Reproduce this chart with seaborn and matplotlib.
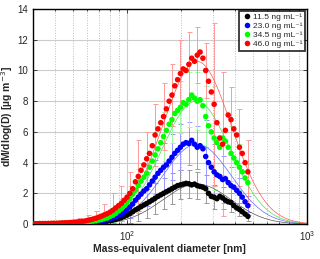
import numpy as np
import pandas as pd
import matplotlib
matplotlib.use("Agg")
import matplotlib.pyplot as plt
from matplotlib.ticker import LogLocator, NullFormatter
import seaborn as sns

# SMPS channel diameters [nm]
diam = [30.5, 31.6, 32.8, 34.0, 35.2, 36.5, 37.9, 39.2, 40.7, 42.2, 43.7, 45.3,
        47.0, 48.7, 50.5, 52.3, 54.2, 56.2, 58.3, 60.4, 62.6, 64.9, 67.3, 69.8,
        72.3, 74.9, 77.7, 80.6, 83.5, 86.6, 89.8, 93.1, 96.5, 100.0, 103.7, 107.5,
        111.4, 115.5, 119.7, 124.1, 128.6, 133.4, 138.2, 143.3, 148.6, 154.0, 159.6,
        165.5, 171.5, 177.8, 184.3, 191.1, 198.1, 205.4, 212.9, 220.7, 228.8, 237.2,
        245.8, 254.8, 264.2, 273.8, 283.9, 294.3, 305.1, 316.2, 327.8, 339.8, 352.3,
        365.2, 378.6, 392.4, 406.8, 421.7, 437.1, 453.2, 469.8]

labels = ["11.5 ng mL⁻¹", "23.0 ng mL⁻¹", "34.5 ng mL⁻¹", "46.0 ng mL⁻¹"]

black_vals = [0.0, 0.0, 0.0, 0.0, 0.01, 0.01, 0.01, 0.01, 0.01, 0.01, 0.02, 0.02,
              0.02, 0.02, 0.03, 0.03, 0.04, 0.04, 0.05, 0.06, 0.07, 0.08, 0.10, 0.12,
              0.14, 0.16, 0.19, 0.22, 0.26, 0.30, 0.36, 0.42, 0.50, 0.58, 0.68, 0.80,
              0.92, 1.02, 1.13, 1.24, 1.34, 1.45, 1.56, 1.68, 1.80, 1.90, 2.00, 2.10,
              2.20, 2.30, 2.40, 2.50, 2.55, 2.60, 2.65, 2.62, 2.55, 2.60, 2.50, 2.45,
              2.40, 2.30, 2.00, 1.80, 1.75, 1.65, 1.80, 1.70, 1.55, 1.45, 1.40, 1.20,
              1.05, 0.95, 0.80, 0.65, 0.50]
blue_vals = [0.0, 0.0, 0.01, 0.01, 0.01, 0.01, 0.02, 0.02, 0.02, 0.02, 0.03, 0.03,
             0.03, 0.04, 0.05, 0.05, 0.06, 0.07, 0.08, 0.10, 0.11, 0.13, 0.15, 0.18,
             0.21, 0.24, 0.28, 0.33, 0.39, 0.46, 0.55, 0.65, 0.78, 0.92, 1.10, 1.30,
             1.55, 1.75, 1.95, 2.15, 2.30, 2.55, 2.80, 3.05, 3.30, 3.50, 3.70, 3.85,
             4.10, 4.35, 4.60, 4.80, 5.00, 5.20, 5.30, 5.25, 5.45, 5.20, 5.00, 5.10,
             4.90, 4.40, 4.00, 3.70, 3.40, 3.20, 3.10, 2.90, 2.95, 2.70, 2.50, 2.40,
             2.20, 2.00, 1.75, 1.45, 1.20]
green_vals = [0.01, 0.01, 0.01, 0.02, 0.02, 0.02, 0.03, 0.03, 0.03, 0.04, 0.04, 0.05,
              0.05, 0.06, 0.07, 0.08, 0.09, 0.10, 0.12, 0.14, 0.16, 0.19, 0.22, 0.26,
              0.30, 0.35, 0.40, 0.50, 0.58, 0.70, 0.85, 1.00, 1.20, 1.40, 1.65, 1.95,
              2.20, 2.50, 2.80, 3.05, 3.30, 3.70, 4.10, 4.50, 4.90, 5.30, 5.70, 6.10,
              6.50, 6.80, 7.20, 7.40, 7.60, 7.90, 7.80, 8.10, 8.40, 8.20, 8.00, 8.10,
              7.70, 7.00, 6.40, 6.00, 5.60, 5.30, 5.00, 5.60, 5.40, 5.00, 4.60, 4.30,
              4.00, 3.70, 3.40, 3.00, 2.70]
red_vals = [0.02, 0.02, 0.03, 0.03, 0.03, 0.04, 0.04, 0.05, 0.05, 0.06, 0.07, 0.08,
            0.09, 0.10, 0.12, 0.13, 0.15, 0.17, 0.20, 0.24, 0.28, 0.33, 0.38, 0.45,
            0.52, 0.60, 0.68, 0.78, 0.90, 1.05, 1.20, 1.35, 1.55, 1.75, 2.00, 2.30,
            2.75, 3.10, 3.50, 3.85, 4.25, 4.60, 5.10, 5.80, 6.20, 6.60, 7.00, 7.50,
            8.00, 8.40, 9.00, 9.40, 9.80, 10.10, 10.00, 10.40, 10.80, 10.60, 11.00, 11.20,
            10.80, 10.00, 9.30, 8.60, 7.80, 6.60, 5.60, 5.20, 6.10, 7.10, 6.80, 6.20,
            5.80, 5.00, 4.60, 4.00, 3.40]

# error bars are shown on every third channel
err_idx = list(range(1, 77, 3))
black_err = [0.0, 0.01, 0.01, 0.02, 0.02, 0.04, 0.06, 0.10, 0.15, 0.25, 0.40, 0.60, 0.80,
             0.95, 1.00, 1.00, 1.00, 0.95, 0.90, 0.90, 0.90, 0.80, 0.70, 0.60, 0.45, 0.30]
blue_err = [0.0, 0.01, 0.02, 0.03, 0.04, 0.06, 0.09, 0.14, 0.20, 0.30, 0.45, 0.70, 0.90,
            1.10, 1.10, 1.60, 1.50, 1.50, 1.40, 1.40, 2.40, 1.80, 1.50, 1.20, 1.00, 0.60]
green_err = [0.01, 0.01, 0.02, 0.03, 0.05, 0.08, 0.12, 0.20, 0.30, 0.45, 0.60, 0.80, 1.10,
             1.30, 1.50, 1.60, 1.50, 1.70, 1.80, 1.90, 2.00, 3.40, 2.40, 1.80, 1.50, 1.20]
red_err = [0.01, 0.02, 0.05, 0.08, 0.15, 0.25, 0.36, 0.47, 0.70, 1.10, 1.15, 1.40, 2.40,
           1.75, 2.00, 2.20, 2.00, 2.20, 2.10, 1.80, 1.80, 5.30, 4.70, 2.10, 2.50, 2.10]

# lognormal fit parameters: amplitude, mode diameter [nm], geometric std
fit_amp = [2.6, 5.2, 8.0, 10.6]
fit_mode = [245, 245, 242, 245]
fit_sigma = [1.55, 1.55, 1.55, 1.55]

colors = ["#000000", "#0000ff", "#00ff00", "#ff0000"]
err_colors = ["#9a9a9a", "#9999ff", "#99ff99", "#ff9999"]
fit_colors = ["#555555", "#6666ff", "#55dd55", "#ff5555"]

series = [black_vals, blue_vals, green_vals, red_vals]
errors = [black_err, blue_err, green_err, red_err]

df = pd.concat([pd.DataFrame({"d": diam, "val": v, "conc": lab})
                for v, lab in zip(series, labels)], ignore_index=True)

d_fit = np.logspace(np.log10(30), 3, 300)
fit_rows = []
for a, m, s, lab in zip(fit_amp, fit_mode, fit_sigma, labels):
    y = a * np.exp(-(np.log10(d_fit / m)) ** 2 / (2 * np.log10(s) ** 2))
    fit_rows.append(pd.DataFrame({"d": d_fit, "val": y, "conc": lab}))
fit_df = pd.concat(fit_rows, ignore_index=True)

sns.set_style("ticks")
plt.rcParams['font.family'] = ['Liberation Sans', 'DejaVu Sans']

fig = plt.figure(figsize=(3.2, 2.59), dpi=100)
ax = fig.add_axes([0.103, 0.135, 0.856, 0.83])

# error bars underneath everything
d_arr = np.array(diam)
for v, e, c in zip(series, errors, err_colors):
    v = np.array(v)
    ax.errorbar(d_arr[err_idx], v[err_idx], yerr=e, fmt="none", ecolor=c,
                elinewidth=0.7, capsize=1.8, capthick=0.7, zorder=1)

sns.lineplot(data=fit_df, x="d", y="val", hue="conc", palette=fit_colors,
             linewidth=0.5, legend=False, ax=ax, zorder=2)
sns.scatterplot(data=df, x="d", y="val", hue="conc", palette=colors, s=16,
                edgecolor="none", ax=ax, zorder=3)

ax.set_xscale("log")
ax.set_xlim(30, 1000)
ax.set_ylim(0, 14)
ax.set_yticks(range(0, 15, 2))
ax.xaxis.set_minor_locator(LogLocator(base=10, subs=np.arange(2, 10)))
ax.xaxis.set_minor_formatter(NullFormatter())

ax.grid(True, which="major", color="#cccccc", linewidth=0.8)
ax.grid(True, which="minor", axis="x", color="#bbbbbb", linestyle=":", linewidth=0.7)
ax.set_axisbelow(True)

ax.tick_params(axis="both", which="both", direction="in", top=True, right=True,
               labelsize=7, length=3, width=0.6)
ax.tick_params(axis="x", which="minor", length=1.5)
for sp in ax.spines.values():
    sp.set_linewidth(1.0)
    sp.set_color("black")

ax.set_xlabel("Mass-equivalent diameter [nm]", fontsize=7.5, fontweight="bold", labelpad=1)
ax.set_ylabel("dM/dlog(D) [µg m$^{-3}$]", fontsize=7.5, fontweight="bold", labelpad=2)

leg = ax.legend(loc="upper right", fontsize=6, frameon=True, fancybox=False,
                handletextpad=0.2, borderpad=0.3, labelspacing=0.15,
                handlelength=1.2, borderaxespad=0.2, markerscale=1.0)
leg.get_frame().set_edgecolor("black")
leg.get_frame().set_linewidth(1.3)
leg.set_title(None)

fig.savefig("out.png", dpi=100)
